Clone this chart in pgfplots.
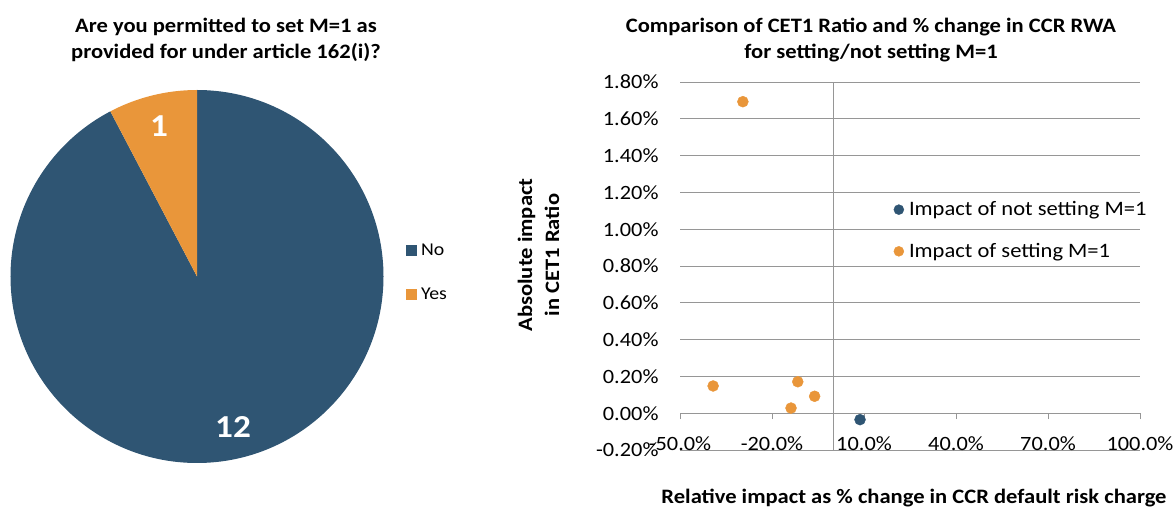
\documentclass[border=0pt]{standalone}
\usepackage{fontspec}
\setmainfont{Carlito}[FakeStretch=1.1]
\usepackage{pgfplots}
\pgfplotsset{compat=1.18}
\usepackage{pgfplotstable}
\definecolor{cblue}{RGB}{47,85,115}
\definecolor{corange}{RGB}{233,150,58}
\definecolor{cgrid}{RGB}{150,150,150}

\pgfplotstableread{
x y
-29.5 1.693
-39.2 0.148
-11.6 0.171
-6.1 0.092
-13.8 0.028
}\settingtab
\pgfplotstableread{
x y
8.7 -0.035
}\notsettingtab
\pgfplotstableread{
answer count
No 12
Yes 1
}\pietab

\begin{document}
\begin{tikzpicture}
\path[use as bounding box] (0pt,0pt) rectangle (1176pt,509pt);
\pgfplotstablegetelem{0}{count}\of\pietab \let\nNo\pgfplotsretval
\pgfplotstablegetelem{1}{count}\of\pietab \let\nYes\pgfplotsretval
\pgfmathsetmacro\angYes{360*\nYes/(\nNo+\nYes)}
\pgfmathsetmacro\angNo{360-\angYes}
% ---------------- pie ----------------
\begin{axis}[at={(197pt,232.5pt)}, anchor=center, x=186.5pt, y=186.5pt,
  xmin=-1, xmax=1, ymin=-1, ymax=1, hide axis, clip=false,
  legend image code/.code={\fill[#1] (0pt,-5.5pt) rectangle (10.5pt,5.5pt); \path (0pt,0pt) (14pt,0pt);},
  legend style={draw=none, fill=none, inner sep=0pt, anchor=west,
    at={(axis cs:1.12,0.021)}, font=\fontsize{18}{21}\selectfont,
    row sep=29pt, nodes={inner sep=1pt}},
  legend cell align=left]
\addlegendimage{fill=cblue, draw=none}
\addlegendentry{No}
\addlegendimage{fill=corange, draw=none}
\addlegendentry{Yes}
\fill[cblue] (axis cs:0,0) -- (axis cs:0,1) arc[start angle=90, delta angle=-\angNo, radius=186.5pt] -- cycle;
\fill[corange] (axis cs:0,0) -- (axis cs:0,1) arc[start angle=90, delta angle=\angYes, radius=186.5pt] -- cycle;
\node[white, font=\bfseries\fontsize{32}{36}\selectfont] at (axis cs:-0.204,0.807) {\nYes};
\node[white, font=\bfseries\fontsize{32}{36}\selectfont] at (axis cs:0.193,-0.807) {\nNo};
\end{axis}
\node[align=center, font=\bfseries\fontsize{20.5}{25.5}\selectfont] at (226pt,469pt) {Are you permitted to set M=1 as\\provided for under article 162(i)?};
% ---------------- scatter ----------------
\begin{axis}[at={(680pt,59pt)}, anchor=south west, scale only axis,
  width=460pt, height=368pt,
  xmin=-50, xmax=100, ymin=-0.2, ymax=1.8,
  axis x line=middle, axis y line=left,
  hide obscured x ticks=false, hide obscured y ticks=false,
  axis line style={-, draw=cgrid, line width=0.8pt},
  y axis line style={draw=none},
  xtick={-50,-20,10,40,70,100},
  xticklabels={-50.0\%,-20.0\%,10.0\%,40.0\%,70.0\%,100.0\%},
  ytick={-0.2,0,0.2,0.4,0.6,0.8,1.0,1.2,1.4,1.6,1.8},
  yticklabels={-0.20\%,0.00\%,0.20\%,0.40\%,0.60\%,0.80\%,1.00\%,1.20\%,1.40\%,1.60\%,1.80\%},
  ymajorgrids, major grid style={cgrid, line width=0.8pt},
  extra x ticks={0}, extra x tick labels={},
  extra x tick style={grid=major, major tick length=0pt},
  xtick align=outside, major tick length=6pt,
  xtick style={cgrid, line width=0.8pt}, ytick style={draw=none},
  tick label style={font=\fontsize{20.3}{23}\selectfont},
  xticklabel style={anchor=base, yshift=-31pt},
  yticklabel style={anchor=east, xshift=-15pt},
  clip=false,
  legend image code/.code={\path (0pt,0pt) (14pt,0pt); \draw[#1, mark size=5pt] plot coordinates {(5pt,0pt)};},
  legend style={draw=none, fill=none, inner sep=0pt, anchor=west,
    at={(axis cs:19.6,0.993)}, font=\fontsize{20.5}{23}\selectfont,
    row sep=24pt, nodes={inner sep=1pt}},
  legend cell align=left]
\addplot[only marks, mark=*, mark size=5.5pt, mark options={draw=cblue, fill=cblue}] table[x=x, y=y] {\notsettingtab};
\addlegendentry{Impact of not setting M=1}
\addplot[only marks, mark=*, mark size=5.5pt, mark options={draw=corange, fill=corange}] table[x=x, y=y] {\settingtab};
\addlegendentry{Impact of setting M=1}
\end{axis}
\node[align=center, font=\bfseries\fontsize{20.5}{25.5}\selectfont] at (871pt,469pt) {Comparison of CET1 Ratio and \% change in CCR RWA\\for setting/not setting M=1};
\node[align=center, rotate=90, font=\bfseries\fontsize{20.5}{27}\selectfont] at (538.5pt,254pt) {Absolute impact\\in CET1 Ratio};
\node[font=\bfseries\fontsize{20.5}{24}\selectfont] at (914pt,11pt) {Relative impact as \% change in CCR default risk charge};
\end{tikzpicture}
\end{document}
